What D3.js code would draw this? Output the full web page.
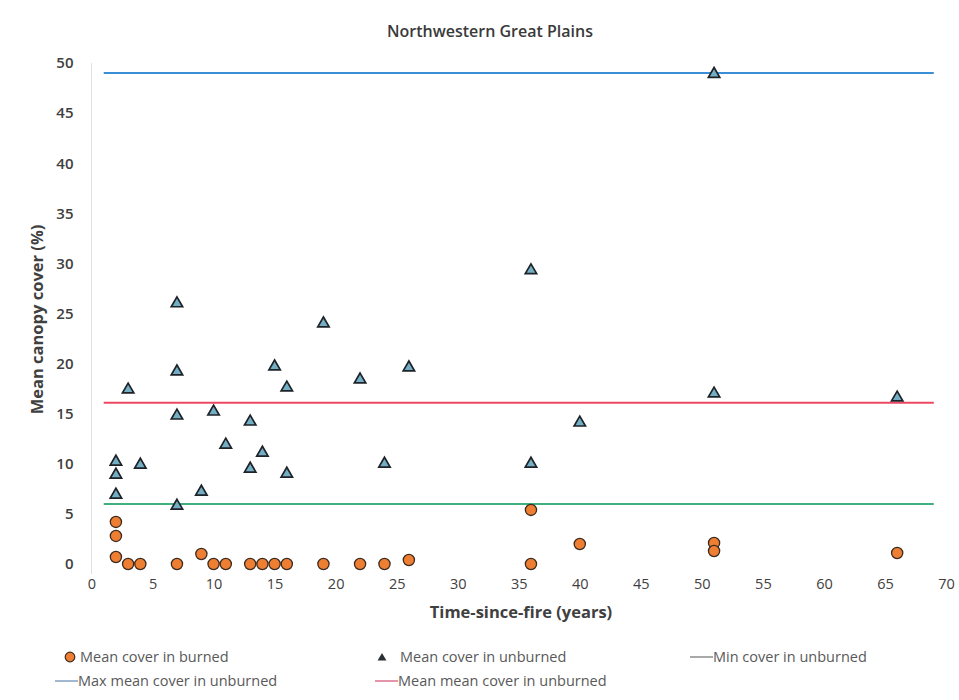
<!DOCTYPE html>
<html>
<head>
<meta charset="utf-8">
<script src="https://cdn.jsdelivr.net/npm/d3@7"></script>
<style>
  html, body { margin: 0; padding: 0; background: #ffffff; }
  svg { display: block; font-family: "Open Sans", "Liberation Sans", sans-serif; }
</style>
</head>
<body>
<svg id="chart" width="959" height="700"></svg>
<script>
// Time since fire (years) and mean canopy cover (%) per site
const burnedYears   = [2, 2, 2, 3, 4, 7, 9, 10, 11, 13, 14, 15, 16, 19, 22, 24, 26, 36, 36, 40, 51, 51, 66];
const burnedCover   = [4.2, 2.8, 0.7, 0, 0, 0, 1.0, 0, 0, 0, 0, 0, 0, 0, 0, 0, 0.4, 5.4, 0, 2.0, 2.1, 1.3, 1.1];

const unburnedYears = [2, 2, 2, 3, 4, 7, 7, 7, 7, 9, 10, 11, 13, 13, 14, 15, 16, 16, 19, 22, 24, 26, 36, 36, 40, 51, 51, 66];
const unburnedCover = [10.3, 9.0, 7.0, 17.5, 10.0, 26.1, 19.3, 14.9, 5.9, 7.3, 15.3, 12.0, 14.3, 9.6, 11.2, 19.8, 17.7, 9.1,
                       24.1, 18.5, 10.1, 19.7, 29.4, 10.1, 14.2, 49.0, 17.1, 16.7];

// Summary lines for the unburned sites
const refNames  = ["Max mean cover in unburned", "Mean mean cover in unburned", "Min cover in unburned"];
const refValues = [49.0, 16.1, 6.0];
const refSpan   = [1, 69];

const xTicks = [0, 5, 10, 15, 20, 25, 30, 35, 40, 45, 50, 55, 60, 65, 70];
const yTicks = [0, 5, 10, 15, 20, 25, 30, 35, 40, 45, 50];

const refColors = {
  "Max mean cover in unburned": "#3a8ed6",
  "Mean mean cover in unburned": "#ec4863",
  "Min cover in unburned": "#41b07f"
};

const svg = d3.select("#chart");
const plotLeft = 91.5, plotRight = 946, plotTop = 63, plotBottom = 564;

const x = d3.scaleLinear().domain([0, 70]).range([plotLeft, plotRight]);
const y = d3.scaleLinear().domain([0, 50]).range([plotBottom, plotTop]);

// Title
svg.append("text")
  .attr("x", 490).attr("y", 37)
  .attr("text-anchor", "middle")
  .attr("font-size", 16).attr("font-weight", 600)
  .attr("fill", "#3a3a3a")
  .text("Northwestern Great Plains");

// Vertical axis line
svg.append("line")
  .attr("x1", x(0)).attr("x2", x(0))
  .attr("y1", plotTop).attr("y2", plotBottom + 10)
  .attr("stroke", "#e2e2e2").attr("stroke-width", 1);

// Axes (labels only)
const xAxis = svg.append("g")
  .attr("transform", `translate(0,${plotBottom + 10})`)
  .call(d3.axisBottom(x).tickValues(xTicks).tickSize(0).tickPadding(5).tickFormat(d3.format("d")));
xAxis.select(".domain").remove();
xAxis.selectAll("text")
  .attr("font-family", "Open Sans, sans-serif")
  .attr("font-size", 14.5).attr("fill", "#404040");

const yAxis = svg.append("g")
  .attr("transform", `translate(${plotLeft - 18},0)`)
  .call(d3.axisLeft(y).tickValues(yTicks).tickSize(0).tickPadding(0).tickFormat(d3.format("d")));
yAxis.select(".domain").remove();
yAxis.selectAll("text")
  .attr("font-family", "Open Sans, sans-serif")
  .attr("font-size", 15).attr("font-weight", 600).attr("fill", "#404040");

// Axis titles
svg.append("text")
  .attr("x", 521).attr("y", 618)
  .attr("text-anchor", "middle")
  .attr("font-size", 16.5).attr("font-weight", 700).attr("fill", "#404040")
  .text("Time-since-fire (years)");

svg.append("text")
  .attr("transform", `translate(43,${(plotTop + plotBottom) / 2 + 6}) rotate(-90)`)
  .attr("text-anchor", "middle")
  .attr("font-size", 16.5).attr("font-weight", 700).attr("fill", "#404040")
  .text("Mean canopy cover (%)");

// Summary lines
svg.append("g").selectAll("line")
  .data(refNames.map((n, i) => ({ name: n, value: refValues[i] })))
  .join("line")
  .attr("x1", x(refSpan[0])).attr("x2", x(refSpan[1]))
  .attr("y1", d => y(d.value)).attr("y2", d => y(d.value))
  .attr("stroke", d => refColors[d.name])
  .attr("stroke-width", 2);

// Unburned means (triangles)
const tri = d3.symbol().type(d3.symbolTriangle).size(56);
svg.append("g").selectAll("path")
  .data(unburnedYears.map((t, i) => ({ t, v: unburnedCover[i] })))
  .join("path")
  .attr("d", tri)
  .attr("transform", d => `translate(${x(d.t)},${y(d.v) + 1})`)
  .attr("fill", "#74aec4")
  .attr("stroke", "#1e2328")
  .attr("stroke-width", 1.7);

// Burned means (circles)
svg.append("g").selectAll("circle")
  .data(burnedYears.map((t, i) => ({ t, v: burnedCover[i] })))
  .join("circle")
  .attr("cx", d => x(d.t)).attr("cy", d => y(d.v))
  .attr("r", 5.6)
  .attr("fill", "#ee7f32")
  .attr("stroke", "#3b2a1f")
  .attr("stroke-width", 1.3);

// Legend
const legend = svg.append("g")
  .attr("font-size", 14.5).attr("fill", "#595959");

const row1 = 657, row2 = 681;

legend.append("circle")
  .attr("cx", 70).attr("cy", row1).attr("r", 4.8)
  .attr("fill", "#ee7f32").attr("stroke", "#3b2a1f").attr("stroke-width", 1.2);
legend.append("text").attr("x", 80).attr("y", row1 + 5).attr("fill", "#595959")
  .text("Mean cover in burned");

legend.append("path")
  .attr("d", d3.symbol().type(d3.symbolTriangle).size(34))
  .attr("transform", `translate(382,${row1 + 1})`)
  .attr("fill", "#2a2f35");
legend.append("text").attr("x", 400).attr("y", row1 + 5).attr("fill", "#595959")
  .text("Mean cover in unburned");

const legendLines = [
  { name: refNames[2], lx: 690, ly: row1, color: "#7a7a7a" },
  { name: refNames[0], lx: 55,  ly: row2, color: "#6f93b3" },
  { name: refNames[1], lx: 375, ly: row2, color: "#d65c7a" }
];
legendLines.forEach(d => {
  legend.append("line")
    .attr("x1", d.lx).attr("x2", d.lx + 23)
    .attr("y1", d.ly).attr("y2", d.ly)
    .attr("stroke", d.color).attr("stroke-width", 1.3);
  legend.append("text")
    .attr("x", d.lx + 23).attr("y", d.ly + 5).attr("fill", "#595959")
    .text(d.name);
});
</script>
</body>
</html>
